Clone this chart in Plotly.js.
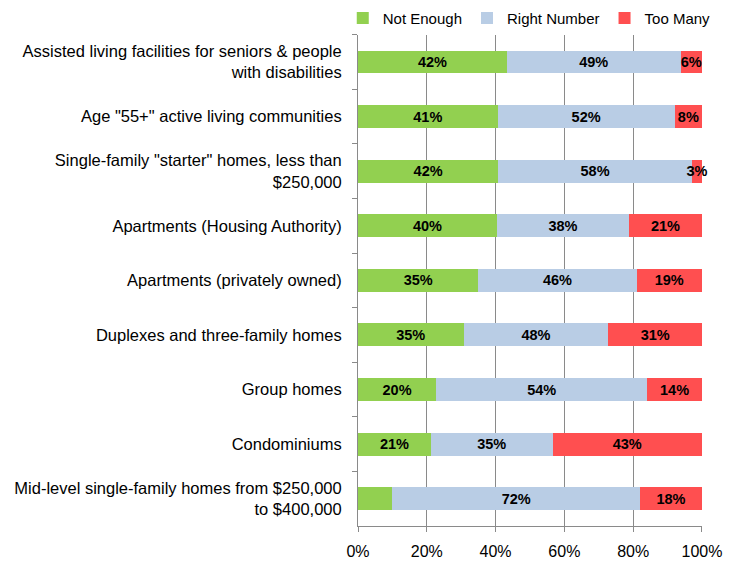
<!DOCTYPE html>
<html>
<head>
<meta charset="utf-8">
<script src="https://cdn.plot.ly/plotly-3.0.1.min.js"></script>
<style>html,body{margin:0;padding:0;background:#fff;}#chart{width:739px;height:561px;}</style>
</head>
<body>
<div id="chart"></div>
<script>
var categories = [
  'Assisted living facilities for seniors & people<br>with disabilities',
  'Age "55+" active living communities',
  'Single-family "starter" homes, less than<br>$250,000',
  'Apartments (Housing Authority)',
  'Apartments (privately owned)',
  'Duplexes and three-family homes',
  'Group homes',
  'Condominiums',
  'Mid-level single-family homes from $250,000<br>to $400,000'
];
var notEnough   = [42, 41, 42, 40, 35, 35, 20, 21, 10];
var rightNumber = [49, 52, 58, 38, 46, 48, 54, 35, 72];
var tooMany     = [6, 8, 3, 21, 19, 31, 14, 43, 18];
var notEnoughShown = [true, true, true, true, true, true, true, true, false];
var xTickVals = [0, 20, 40, 60, 80, 100];

var FONT = 'Liberation Sans, Arial, sans-serif';

function labels(vals, shown) {
  return vals.map(function (v, i) { return (shown && !shown[i]) ? '' : v + '%'; });
}

var common = {
  type: 'bar', orientation: 'h', y: categories,
  textposition: 'inside', insidetextanchor: 'middle', textangle: 0,
  constraintext: 'none',
  textfont: {family: FONT, size: 14.5, color: '#000', weight: 'bold'},
  hoverinfo: 'skip', cliponaxis: false
};

var traces = [
  Object.assign({}, common, {name: 'Not Enough', x: notEnough, text: labels(notEnough, notEnoughShown), marker: {color: '#92d050'}}),
  Object.assign({}, common, {name: 'Right Number', x: rightNumber, text: labels(rightNumber), marker: {color: '#b9cde5'}}),
  Object.assign({}, common, {name: 'Too Many', x: tooMany, text: labels(tooMany), marker: {color: '#ff4f50'}})
];

var layout = {
  width: 739, height: 561,
  margin: {l: 358, r: 37, t: 32, b: 35},
  barmode: 'stack', barnorm: 'percent', bargap: 0.58,
  paper_bgcolor: '#fff', plot_bgcolor: '#fff',
  font: {family: FONT, size: 16, color: '#000'},
  showlegend: true,
  legend: {orientation: 'h', xref: 'paper', yref: 'container',
           x: 1.04, xanchor: 'right', y: 0.997, yanchor: 'top',
           font: {size: 15}, traceorder: 'normal', itemwidth: 30,
           bgcolor: 'rgba(0,0,0,0)'},
  xaxis: {
    range: [0, 100.01], tickvals: xTickVals, ticktext: xTickVals.map(function (v) { return v + '%'; }),
    showgrid: true, gridcolor: '#8a8a8a', gridwidth: 1,
    showline: true, linecolor: '#8a8a8a', ticks: 'outside', ticklen: 5, tickcolor: '#8a8a8a',
    zeroline: false, tickfont: {size: 16}, ticklabelstandoff: 6, fixedrange: true
  },
  yaxis: {
    autorange: 'reversed', type: 'category',
    showline: true, linecolor: '#8a8a8a', ticks: 'outside', ticklen: 5, tickcolor: '#8a8a8a',
    tickson: 'boundaries', showgrid: false, tickfont: {size: 16.5}, ticklabelstandoff: 12, fixedrange: true
  }
};

Plotly.newPlot('chart', traces, layout, {displayModeBar: false, staticPlot: true});
</script>
</body>
</html>
